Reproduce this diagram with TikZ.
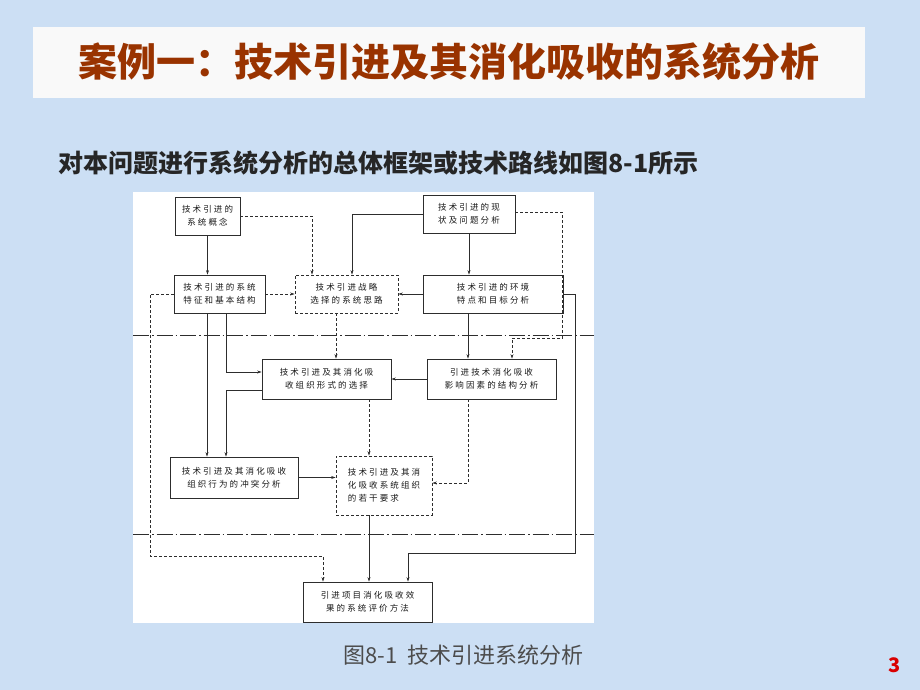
\documentclass[tikz,border=0pt]{standalone}
\usepackage{fontspec}
\setmainfont{Noto Sans CJK SC}
\usetikzlibrary{arrows.meta}
\definecolor{slidebg}{RGB}{204,223,244}
\definecolor{titlered}{RGB}{153,51,0}
\definecolor{boxline}{RGB}{45,45,45}
\newcommand{\boxfont}{\fontsize{8.5}{13}\selectfont\addfontfeatures{LetterSpace=25}}
\tikzstyle{block} = [rectangle, draw=boxline, line width=0.8pt, fill=white, align=center, inner sep=0pt, text=black!90, font=\boxfont]
\tikzstyle{dblock} = [block, dash pattern=on 3pt off 2pt]
\tikzstyle{flow} = [draw=boxline, line width=0.6pt, -{Stealth[length=4.5pt,width=3pt]}]
\tikzstyle{dflow} = [flow, dash pattern=on 3pt off 2pt]
\tikzstyle{divide} = [draw=boxline, line width=0.8pt, dash pattern=on 16pt off 3pt on 1.5pt off 3pt]

\begin{document}
\begin{tikzpicture}
  \useasboundingbox (0pt,0pt) rectangle (920pt,-690pt);
  \fill[slidebg] (0pt,0pt) rectangle (920pt,-690pt);
  % title bar
  \fill[white!95!gray] (33pt,-27pt) rectangle (865pt,-98pt);
  \draw (449pt,-62pt)node[text=titlered,font=\fontsize{39}{39}\selectfont\bfseries](title){案例一：技术引进及其消化吸收的系统分析};
  \draw (55pt,-163pt)node[anchor=west,text=black!85,font=\fontsize{25}{25}\selectfont\bfseries](sub){对本问题进行系统分析的总体框架或技术路线如图8-1所示};
  % figure area
  \fill[white] (133pt,-192pt) rectangle (594pt,-623pt);
  \draw (133pt,-335pt) -- (594pt,-335pt) [divide];
  \draw (133pt,-534pt) -- (594pt,-534pt) [divide];
  \draw (207.5pt,-216pt)node[block,minimum width=65pt,minimum height=38pt](A){技术引进的\\系统概念};
  \draw (469pt,-214pt)node[block,minimum width=92pt,minimum height=38pt](B){技术引进的现\\状及问题分析};
  \draw (219.5pt,-294pt)node[block,minimum width=91pt,minimum height=38pt](C){技术引进的系统\\特征和基本结构};
  \draw (346.5pt,-294pt)node[dblock,minimum width=103pt,minimum height=38pt](D){技术引进战略\\选择的系统思路};
  \draw (493pt,-294pt)node[block,minimum width=140pt,minimum height=38pt](E){技术引进的环境\\特点和目标分析};
  \draw (326.5pt,-379pt)node[block,minimum width=129pt,minimum height=40pt](F1){技术引进及其消化吸\\收组织形式的选择};
  \draw (491.5pt,-379pt)node[block,minimum width=129pt,minimum height=40pt](F2){引进技术消化吸收\\影响因素的结构分析};
  \draw (234pt,-477.5pt)node[block,minimum width=128pt,minimum height=41pt](G1){技术引进及其消化吸收\\组织行为的冲突分析};
  \draw (384pt,-485.5pt)node[dblock,align=left,minimum width=96pt,minimum height=59pt](G2){技术引进及其消\\化吸收系统组织\\的若干要求};
  \draw (367.5pt,-602pt)node[block,minimum width=129pt,minimum height=40pt](H){引进项目消化吸收效\\果的系统评价方法};
  \path[flow] (A.south) -- (A.south |- C.north);
  \path[dflow] (A.east) -| ([xshift=-34.5pt]D.north);
  \path[flow] (B.west) -| ([xshift=5.5pt]D.north);
  \path[flow] (B.south) -- (B.south |- E.north);
  \path[dflow] ([yshift=2pt]B.east) -| (562pt,-338pt) -| ([xshift=20.5pt]F2.north);
  \path[dflow] (C.east) -- (C.east -| D.west);
  \path[flow] (E.west) -- (E.west -| D.east);
  \path[flow] (E.east) -| (575pt,-553pt) -| ([xshift=40.5pt]H.north);
  \path[dflow] (C.west) -| (150pt,-556pt) -| ([xshift=-44.5pt]H.north);
  \path[flow] ([xshift=-12.5pt]C.south) -- ([xshift=-12.5pt]C.south |- G1.north);
  \path[flow] ([xshift=6.5pt]C.south) |- ([yshift=7pt]F1.west);
  \path[flow] ([yshift=-11pt]F1.west) -| ([xshift=-8pt]G1.north);
  \path[dflow] ([xshift=-10.5pt]D.south) -- ([xshift=-10.5pt]D.south |- F1.north);
  \path[flow] ([xshift=-25pt]E.south) -- ([xshift=-25pt]E.south |- F2.north);
  \path[flow] (F2.west) -- (F2.west -| F1.east);
  \path[dflow] ([xshift=42.5pt]F1.south) -- ([xshift=42.5pt]F1.south |- G2.north);
  \path[dflow] ([xshift=-23.5pt]F2.south) |- ([yshift=2.5pt]G2.east);
  \path[flow] (G1.east) -- (G1.east -| G2.west);
  \path[flow] ([xshift=-15pt]G2.south) -- ([xshift=-15pt]G2.south |- H.north);
  % caption and page number
  \draw (340pt,-655pt)node[anchor=west,text=black!70,font=\fontsize{22}{22}\selectfont](caption){图8-1\ \ 技术引进系统分析};
  \draw (895pt,-665pt)node[text=red!85!black,font=\fontsize{20}{20}\selectfont\bfseries](page){3};
\end{tikzpicture}
\end{document}
